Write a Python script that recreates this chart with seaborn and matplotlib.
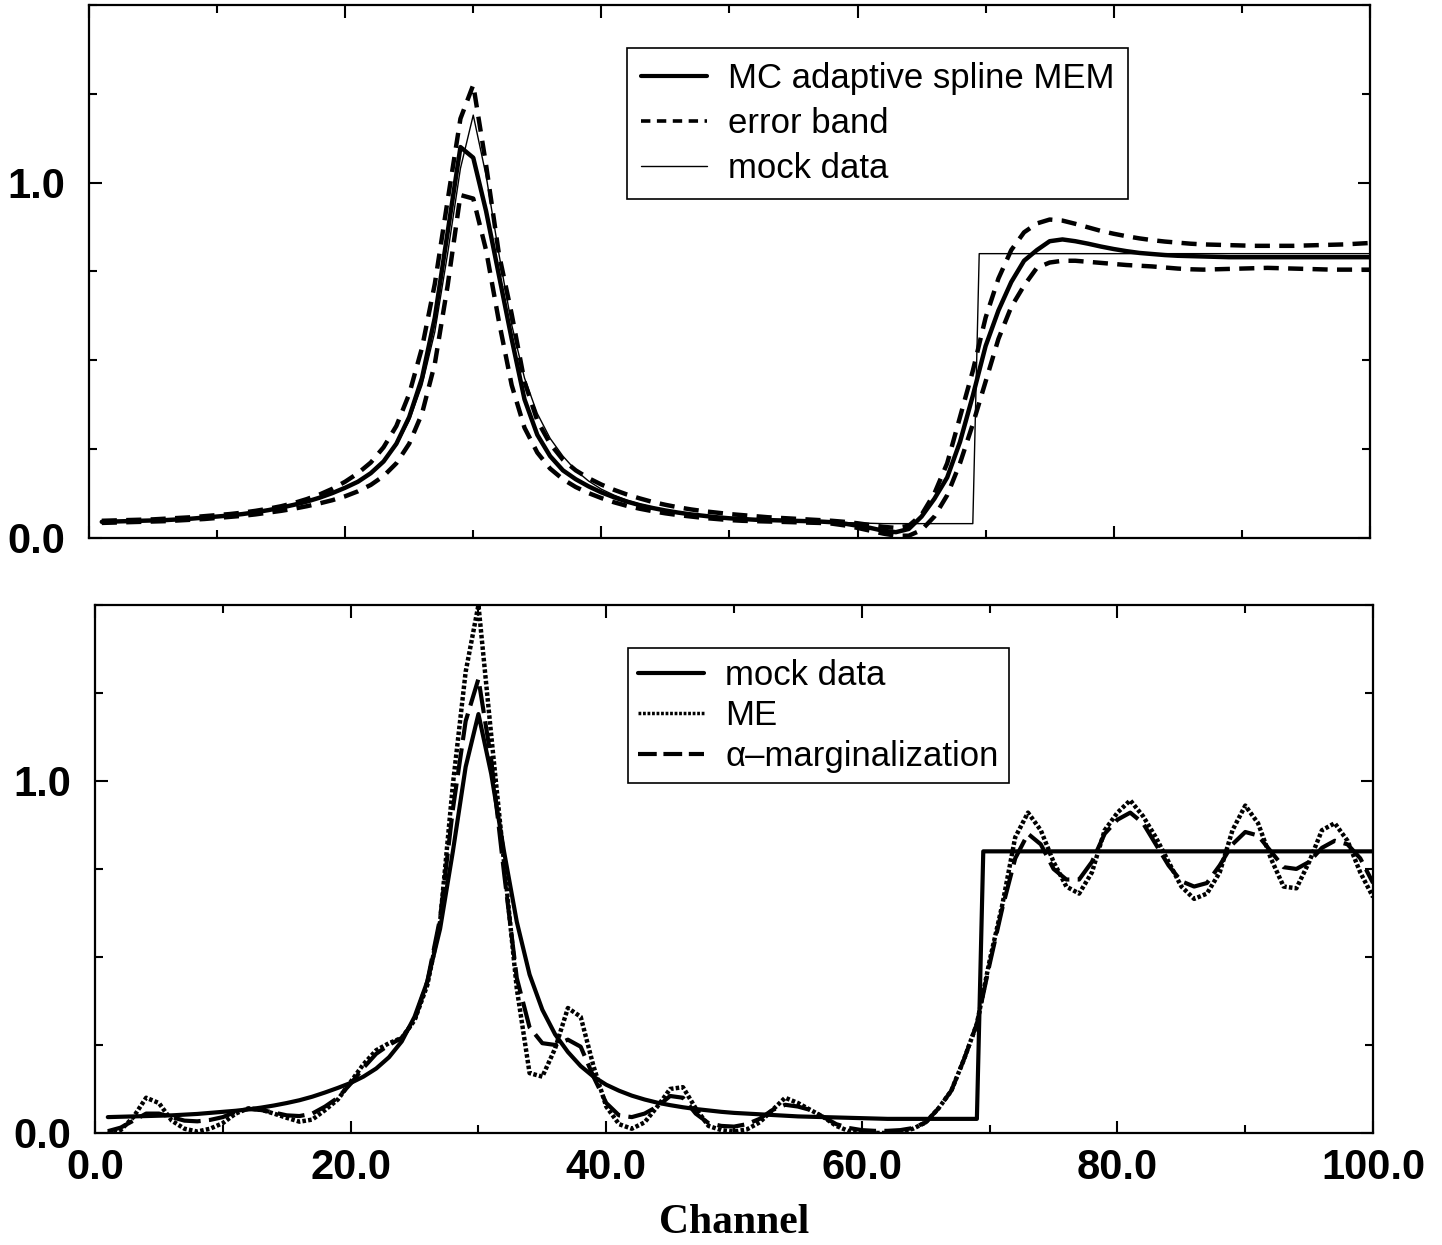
import numpy as np
import pandas as pd
import matplotlib
matplotlib.use("Agg")
import matplotlib.pyplot as plt
import seaborn as sns
from matplotlib.ticker import MultipleLocator
from matplotlib.lines import Line2D

# ---------------- data ----------------
channel = list(range(1, 101))

# mock data: Lorentzian-like peak and a step at channel ~69
mock_channel = list(range(1, 70)) + [69.5] + list(range(70, 101))
mock_data = [0.045, 0.046, 0.047, 0.048, 0.049, 0.050, 0.052, 0.054, 0.057, 0.060,
             0.063, 0.067, 0.072, 0.078, 0.085, 0.093, 0.103, 0.115, 0.128, 0.142,
             0.160, 0.183, 0.215, 0.260, 0.330, 0.430, 0.580, 0.800, 1.040, 1.190,
             1.020, 0.800, 0.600, 0.450, 0.350, 0.280, 0.230, 0.190, 0.160, 0.137,
             0.120, 0.106, 0.095, 0.086, 0.079, 0.073, 0.068, 0.064, 0.060, 0.057,
             0.055, 0.053, 0.051, 0.049, 0.047, 0.046, 0.045, 0.044, 0.043, 0.042,
             0.041, 0.040, 0.040, 0.040, 0.040, 0.040, 0.040, 0.040, 0.040,
             0.800,
             0.800, 0.800, 0.800, 0.800, 0.800, 0.800, 0.800, 0.800, 0.800, 0.800,
             0.800, 0.800, 0.800, 0.800, 0.800, 0.800, 0.800, 0.800, 0.800, 0.800,
             0.800, 0.800, 0.800, 0.800, 0.800, 0.800, 0.800, 0.800, 0.800, 0.800,
             0.800]

mc_spline_mem = [0.045, 0.046, 0.047, 0.048, 0.049, 0.050, 0.052, 0.054, 0.057, 0.060,
                 0.063, 0.067, 0.072, 0.078, 0.085, 0.093, 0.102, 0.113, 0.126, 0.141,
                 0.158, 0.182, 0.215, 0.265, 0.340, 0.450, 0.620, 0.860, 1.100, 1.070,
                 0.920, 0.740, 0.560, 0.390, 0.290, 0.230, 0.190, 0.165, 0.145, 0.128,
                 0.114, 0.102, 0.092, 0.084, 0.077, 0.071, 0.066, 0.062, 0.058, 0.055,
                 0.053, 0.051, 0.050, 0.049, 0.048, 0.047, 0.046, 0.044, 0.040, 0.034,
                 0.028, 0.020, 0.016, 0.025, 0.060, 0.110, 0.170, 0.270, 0.400, 0.540,
                 0.640, 0.720, 0.780, 0.810, 0.835, 0.840, 0.835, 0.828, 0.820, 0.813,
                 0.807, 0.802, 0.799, 0.796, 0.794, 0.793, 0.792, 0.791, 0.790, 0.790,
                 0.790, 0.790, 0.790, 0.790, 0.790, 0.790, 0.790, 0.790, 0.790, 0.790]

band_upper = [0.048, 0.049, 0.050, 0.051, 0.052, 0.054, 0.056, 0.058, 0.061, 0.064,
              0.067, 0.071, 0.076, 0.082, 0.089, 0.098, 0.109, 0.122, 0.138, 0.158,
              0.182, 0.212, 0.255, 0.315, 0.405, 0.535, 0.715, 0.950, 1.180, 1.275,
              1.050, 0.800, 0.630, 0.440, 0.330, 0.265, 0.220, 0.190, 0.168, 0.150,
              0.135, 0.122, 0.111, 0.101, 0.093, 0.086, 0.080, 0.075, 0.071, 0.067,
              0.064, 0.061, 0.058, 0.056, 0.054, 0.052, 0.050, 0.048, 0.045, 0.041,
              0.036, 0.031, 0.028, 0.034, 0.065, 0.125, 0.210, 0.340, 0.470, 0.620,
              0.730, 0.810, 0.860, 0.885, 0.896, 0.893, 0.884, 0.874, 0.864, 0.856,
              0.849, 0.843, 0.838, 0.834, 0.831, 0.828, 0.826, 0.825, 0.824, 0.823,
              0.822, 0.822, 0.822, 0.822, 0.823, 0.824, 0.825, 0.826, 0.828, 0.830]

band_lower = [0.042, 0.043, 0.044, 0.045, 0.046, 0.047, 0.049, 0.051, 0.053, 0.056,
              0.059, 0.062, 0.066, 0.071, 0.076, 0.082, 0.089, 0.097, 0.106, 0.117,
              0.131, 0.149, 0.174, 0.210, 0.265, 0.350, 0.490, 0.710, 0.965, 0.955,
              0.810, 0.610, 0.430, 0.310, 0.240, 0.195, 0.165, 0.143, 0.126, 0.112,
              0.100, 0.090, 0.082, 0.075, 0.069, 0.064, 0.060, 0.056, 0.053, 0.050,
              0.048, 0.047, 0.046, 0.045, 0.044, 0.043, 0.042, 0.040, 0.035, 0.028,
              0.020, 0.012, 0.006, 0.006, 0.022, 0.060, 0.120, 0.210, 0.320, 0.440,
              0.560, 0.650, 0.710, 0.760, 0.775, 0.780, 0.780, 0.777, 0.774, 0.771,
              0.768, 0.766, 0.764, 0.761, 0.758, 0.756, 0.755, 0.756, 0.757, 0.758,
              0.759, 0.760, 0.759, 0.758, 0.757, 0.756, 0.755, 0.755, 0.755, 0.755]

me_recon = [0.000, 0.008, 0.045, 0.100, 0.085, 0.035, 0.012, 0.004, 0.012, 0.028,
            0.055, 0.070, 0.066, 0.055, 0.043, 0.032, 0.038, 0.065, 0.095, 0.145,
            0.195, 0.235, 0.255, 0.270, 0.320, 0.420, 0.600, 0.990, 1.310, 1.500,
            1.130, 0.770, 0.410, 0.170, 0.160, 0.240, 0.355, 0.330, 0.190, 0.075,
            0.025, 0.012, 0.030, 0.075, 0.125, 0.130, 0.070, 0.020, 0.008, 0.004,
            0.010, 0.030, 0.065, 0.100, 0.085, 0.065, 0.045, 0.020, 0.005, 0.000,
            0.000, 0.000, 0.003, 0.012, 0.030, 0.070, 0.120, 0.210, 0.310, 0.490,
            0.650, 0.840, 0.910, 0.860, 0.770, 0.700, 0.680, 0.740, 0.860, 0.910,
            0.945, 0.900, 0.840, 0.770, 0.700, 0.665, 0.680, 0.740, 0.860, 0.930,
            0.880, 0.780, 0.700, 0.695, 0.770, 0.860, 0.880, 0.830, 0.740, 0.670]

alpha_marg = [0.005, 0.015, 0.035, 0.055, 0.055, 0.045, 0.035, 0.033, 0.037, 0.045,
              0.060, 0.068, 0.065, 0.058, 0.050, 0.048, 0.055, 0.075, 0.100, 0.140,
              0.185, 0.225, 0.250, 0.270, 0.320, 0.430, 0.610, 0.920, 1.170, 1.290,
              1.060, 0.740, 0.440, 0.300, 0.255, 0.250, 0.265, 0.245, 0.160, 0.085,
              0.050, 0.045, 0.055, 0.075, 0.105, 0.100, 0.055, 0.028, 0.020, 0.018,
              0.025, 0.040, 0.065, 0.080, 0.075, 0.065, 0.045, 0.025, 0.014, 0.008,
              0.006, 0.006, 0.008, 0.014, 0.030, 0.070, 0.120, 0.210, 0.310, 0.480,
              0.640, 0.780, 0.850, 0.820, 0.750, 0.720, 0.720, 0.770, 0.850, 0.890,
              0.910, 0.880, 0.820, 0.760, 0.715, 0.700, 0.710, 0.760, 0.820, 0.855,
              0.845, 0.800, 0.755, 0.750, 0.770, 0.810, 0.830, 0.820, 0.780, 0.710]

x_tick_values = [0, 20, 40, 60, 80, 100]
x_tick_labels = ["0.0", "20.0", "40.0", "60.0", "80.0", "100.0"]
y_tick_values = [0.0, 1.0]
y_tick_labels = ["0.0", "1.0"]

top_labels = ["MC adaptive spline MEM", "error band", "mock data"]
bottom_labels = ["mock data", "ME", "\u03b1\u2013marginalization"]

# ---------------- style ----------------
sns.set_theme(style="ticks")
plt.rcParams['font.family'] = ['Liberation Sans', 'DejaVu Sans']
plt.rcParams['text.color'] = 'black'
plt.rcParams['xtick.color'] = 'black'
plt.rcParams['ytick.color'] = 'black'
plt.rcParams['axes.labelcolor'] = 'black'
plt.rcParams['axes.linewidth'] = 1.6
plt.rcParams['axes.edgecolor'] = 'black'

fig = plt.figure(figsize=(14.42, 12.45), dpi=100)
fig.patch.set_facecolor('white')
ax1 = fig.add_axes([0.0617, 0.568, 0.8883, 0.428])
ax2 = fig.add_axes([0.0659, 0.090, 0.8863, 0.4241])

top_df = pd.DataFrame({"channel": channel, "mem": mc_spline_mem,
                       "upper": band_upper, "lower": band_lower})
mock_df = pd.DataFrame({"channel": mock_channel, "mock": mock_data})
bot_df = pd.DataFrame({"channel": channel, "me": me_recon, "alpha": alpha_marg})

band_ls = (0, (3.4, 2.1))
me_ls = (0, (0.8, 0.5))
alpha_ls = (0, (6.5, 2.0))

# top panel
sns.lineplot(data=mock_df, x="channel", y="mock", ax=ax1, color="black",
             lw=1.0, estimator=None, sort=False)
sns.lineplot(data=top_df, x="channel", y="upper", ax=ax1, color="black",
             lw=3.2, linestyle=band_ls, estimator=None, sort=False)
sns.lineplot(data=top_df, x="channel", y="lower", ax=ax1, color="black",
             lw=3.2, linestyle=band_ls, estimator=None, sort=False)
sns.lineplot(data=top_df, x="channel", y="mem", ax=ax1, color="black",
             lw=3.2, estimator=None, sort=False)

# bottom panel
sns.lineplot(data=mock_df, x="channel", y="mock", ax=ax2, color="black",
             lw=3.0, estimator=None, sort=False)
sns.lineplot(data=bot_df, x="channel", y="me", ax=ax2, color="black",
             lw=3.2, linestyle=me_ls, estimator=None, sort=False)
sns.lineplot(data=bot_df, x="channel", y="alpha", ax=ax2, color="black",
             lw=3.0, linestyle=alpha_ls, estimator=None, sort=False)

for ax in (ax1, ax2):
    ax.set_xlim(0, 100)
    ax.set_ylim(0, 1.5)
    ax.set_xticks(x_tick_values)
    ax.xaxis.set_minor_locator(MultipleLocator(10))
    ax.set_yticks(y_tick_values)
    ax.set_yticklabels(y_tick_labels, fontweight='bold')
    ax.yaxis.set_minor_locator(MultipleLocator(0.25))
    ax.tick_params(which='both', direction='in', top=True, right=True,
                   width=1.5, colors='black')
    ax.tick_params(which='major', length=9)
    ax.tick_params(which='minor', length=6)
    ax.tick_params(axis='y', which='major', labelsize=30, pad=17)
    ax.tick_params(axis='x', which='major', labelsize=30, pad=11)
    ax.set_ylabel("")
    ax.set_facecolor('white')
    for s in ax.spines.values():
        s.set_linewidth(1.6)
        s.set_color('black')

ax1.set_xticklabels([])
ax1.set_xlabel("")
ax2.set_xticklabels(x_tick_labels, fontweight='bold')
ax2.set_xlabel("Channel", family=['Liberation Serif', 'DejaVu Serif'],
               fontweight='bold', fontsize=30, labelpad=11)

def make_legend(ax, handles, labels, anchor, spacing, pad):
    leg = ax.legend(handles=handles, labels=labels, loc='upper left',
                    bbox_to_anchor=anchor, frameon=True, fancybox=False,
                    framealpha=1, edgecolor='black', fontsize=25,
                    handlelength=1.9, handletextpad=0.6, labelspacing=spacing,
                    borderpad=pad, borderaxespad=0.0, labelcolor='black')
    leg.get_frame().set_linewidth(1.2)
    return leg

h_top = [Line2D([], [], color='black', lw=3.0),
         Line2D([], [], color='black', lw=2.6, linestyle=(0, (2.6, 1.8))),
         Line2D([], [], color='black', lw=1.0)]
make_legend(ax1, h_top, top_labels, (0.42, 0.919), 0.35, 0.4)

h_bot = [Line2D([], [], color='black', lw=3.0),
         Line2D([], [], color='black', lw=2.5, linestyle=me_ls),
         Line2D([], [], color='black', lw=3.0, linestyle=(0, (4.5, 1.6)))]
make_legend(ax2, h_bot, bottom_labels, (0.417, 0.918), 0.22, 0.3)

fig.savefig("out.png", dpi=100, facecolor='white')
